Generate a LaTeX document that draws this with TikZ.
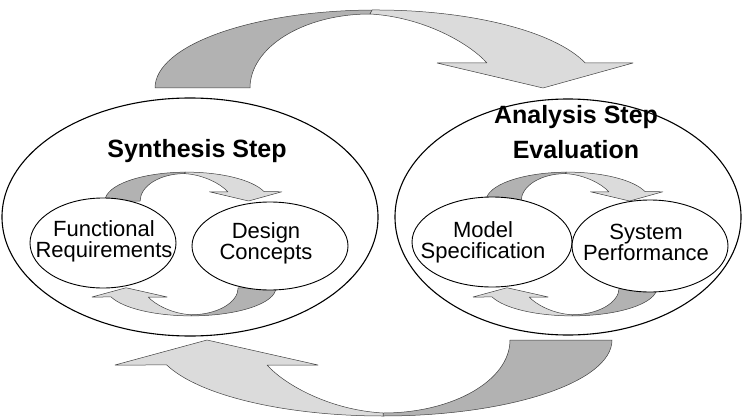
\documentclass[tikz,border=0pt]{standalone}
\usepackage{fontspec}
\setmainfont{Liberation Sans}
\usetikzlibrary{shapes.geometric}

\tikzset{
  bigoval/.style={ellipse, draw=black, line width=1.1pt, fill=white, inner sep=0pt},
  smalloval/.style={ellipse, draw=black, line width=0.9pt, fill=white, inner sep=0pt},
  darkband/.style={fill=black!30, draw=black!75, line width=0.5pt, line join=round},
  lightband/.style={fill=black!14, draw=black!75, line width=0.5pt, line join=round},
  steptitle/.style={font=\fontsize{25}{30}\selectfont\bfseries, anchor=base},
  boxtext/.style={font=\fontsize{22}{21}\selectfont, align=center, inner sep=0pt}
}

% curved arrow going left -> right over the top
\newcommand{\toparrow}{%
  \path[darkband] (155,-88) arc[start angle=180, end angle=91, x radius=221pt, y radius=78pt]
    -- (370,-14) arc[start angle=90, end angle=180, x radius=120pt, y radius=74pt] -- cycle;
  \path[lightband] (372.1,-10) arc[start angle=91, end angle=18.7, x radius=221pt, y radius=78pt]
    -- (633,-63) -- (543,-88) -- (437,-63) -- (487,-63)
    .. controls (469,-43) and (423,-17) .. (370,-14) -- cycle;
}
% curved arrow going right -> left underneath
\newcommand{\botarrow}{%
  \path[darkband] (612,-340) -- (510,-340) arc[start angle=0, end angle=-90, x radius=127pt, y radius=73pt]
    -- (383,-416) arc[start angle=270, end angle=360, x radius=229pt, y radius=76pt] -- cycle;
  \path[lightband] (383,-416) arc[start angle=270, end angle=199.2, x radius=229pt, y radius=76pt]
    -- (115,-365) -- (207,-340) -- (318,-365) -- (267,-365)
    .. controls (285,-385) and (330,-410) .. (383,-413) -- cycle;
}

\begin{document}
\begin{tikzpicture}[x=1pt, y=1pt]
  \useasboundingbox (0,0) rectangle (743,-417);

  % outer loop
  \toparrow
  \botarrow

  \node[bigoval, minimum width=376pt, minimum height=238pt] (synth) at (190,-217) {};
  \node[bigoval, minimum width=346pt, minimum height=236pt] (anal) at (568,-217) {};

  \node[steptitle] (synthtitle) at (197,-157) {Synthesis Step};
  \node[steptitle] (analtitle) at (576,-123) {Analysis Step};
  \node[steptitle] (evaltitle) at (576,-158) {Evaluation};

  % inner loops
  \begin{scope}[shift={(47.65,-168.44)}, scale=0.37] \toparrow \end{scope}
  \begin{scope}[shift={(49.45,-161.95)}, scale=0.37] \botarrow \end{scope}
  \begin{scope}[shift={(428.65,-168.44)}, scale=0.37] \toparrow \end{scope}
  \begin{scope}[shift={(430.45,-161.95)}, scale=0.37] \botarrow \end{scope}

  \node[smalloval, minimum width=146pt, minimum height=90pt] (funcreq) at (103,-243) {};
  \node[smalloval, minimum width=156pt, minimum height=88pt] (design) at (270,-246) {};
  \node[smalloval, minimum width=160pt, minimum height=90pt] (model) at (492,-242) {};
  \node[smalloval, minimum width=156pt, minimum height=92pt] (perf) at (650,-246) {};

  \node[boxtext] (funcreqtext) at (104,-241) {Functional\\Requirements};
  \node[boxtext] (designtext) at (266,-243) {Design\\Concepts};
  \node[boxtext] (modeltext) at (483,-242) {Model\\Specification};
  \node[boxtext] (perftext) at (646,-242) {System\\Performance};
\end{tikzpicture}
\end{document}
